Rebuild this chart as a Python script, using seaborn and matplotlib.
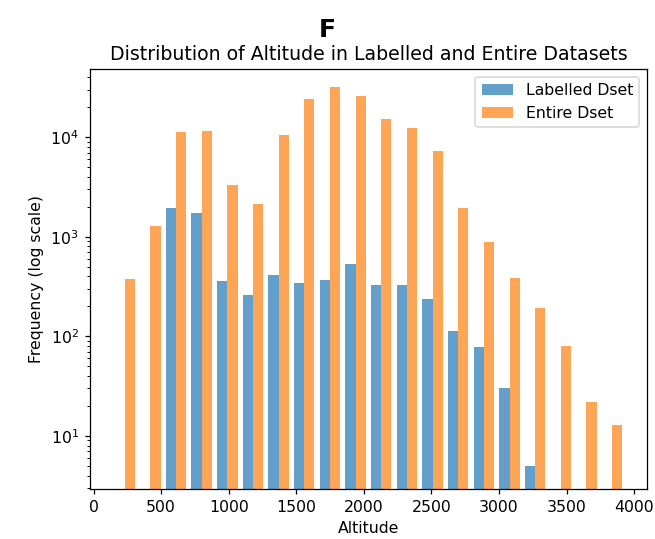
import numpy as np
import pandas as pd
import matplotlib
matplotlib.use("Agg")
import matplotlib.pyplot as plt
import seaborn as sns
from matplotlib.patches import Patch
from matplotlib.colors import to_rgba


# histogram counts (20 equal bins of altitude)
bin_edges = list(np.linspace(135, 3932, 21))
labelled_counts = [0, 0, 1960, 1725, 363, 259, 411, 342, 371, 535,
                   327, 326, 238, 112, 78, 30, 5, 0, 0, 0]
entire_counts = [378, 1297, 11300, 11570, 3300, 2125, 10620, 24060, 31990, 26000,
                 15270, 12400, 7230, 1963, 895, 389, 192, 80, 22, 13]
dset_names = ["Labelled Dset", "Entire Dset"]

centers = [(a + b) / 2 for a, b in zip(bin_edges[:-1], bin_edges[1:])]

df = pd.concat([
    pd.DataFrame({"Altitude": centers, "count": labelled_counts, "dset": dset_names[0]}),
    pd.DataFrame({"Altitude": centers, "count": entire_counts, "dset": dset_names[1]}),
], ignore_index=True)

colors = ["#1f77b4", "#ff7f0e"]

dpi = 113
fig = plt.figure(figsize=(655 / dpi, 539 / dpi), dpi=dpi)
ax = fig.add_axes([0.137, 0.093, 0.851, 0.779])
ax.set_yscale("log")

sns.histplot(
    data=df,
    x="Altitude",
    weights="count",
    hue="dset",
    hue_order=dset_names,
    palette=colors,
    bins=bin_edges,
    multiple="dodge",
    shrink=0.8,
    alpha=0.7,
    linewidth=0,
    ax=ax,
)

ax.set_ylim(2.94, 48500)
ax.set_xlim(-28, 4096)
ax.set_xticks([0, 500, 1000, 1500, 2000, 2500, 3000, 3500, 4000])

if ax.get_legend() is not None:
    ax.get_legend().remove()
handles = [Patch(facecolor=to_rgba(c, 0.7), label=n) for c, n in zip(colors, dset_names)]
ax.legend(handles=handles, loc="upper right")

ax.set_xlabel("Altitude")
ax.set_ylabel("Frequency (log scale)")
ax.set_title("Distribution of Altitude in Labelled and Entire Datasets", fontsize=12)
fig.suptitle("F", fontsize=16, fontweight="bold", y=0.967)

fig.savefig("out.png", dpi=dpi)
